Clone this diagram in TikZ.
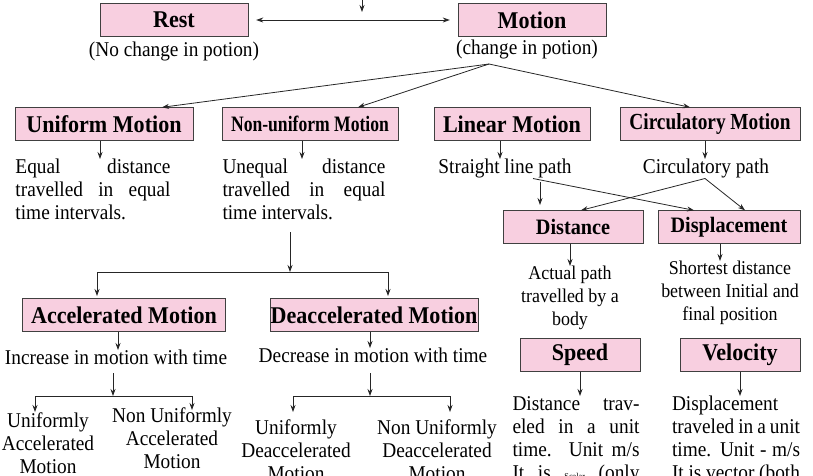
\documentclass[tikz,border=0pt]{standalone}
\usepackage{fontspec}
\setmainfont{Liberation Serif}[FakeStretch=0.92]
\usetikzlibrary{arrows.meta}
\definecolor{boxpink}{HTML}{F8CFE0}
\begin{document}
\begin{tikzpicture}[x=1pt, y=-1pt,
    pinkbox/.style={draw=black!75, fill=boxpink, font=\bfseries\fontsize{24}{25}\selectfont, minimum height=33, inner sep=1},
    txt/.style={font=\fontsize{21}{23}\selectfont, inner sep=0, align=center, anchor=north},
    jtxt/.style={txt, align=justify},
    arr/.style={-{Stealth[length=7, width=5]}, thick, black!85}]
  \useasboundingbox (0,0) rectangle (813,475);
  \clip (0,0) rectangle (813,475);

  % top row
  \node[pinkbox, minimum width=148] (rest) at (174,20) {Rest};
  \node[pinkbox, minimum width=148] (motion) at (532,20) {Motion};
  \node[txt] (restT) at (174,42) {(No change in potion)};
  \node[txt] (motionT) at (527,40) {(change in potion)};
  \coordinate (top) at (362,0);
  \coordinate (mid) at (362,12);
  \draw[arr] (top) -- (mid);
  \path (rest.east) ++(8,0) coordinate (re) (motion.west) ++(-8,0) coordinate (me);
  \draw[arr, {Stealth[length=7, width=5]}-{Stealth[length=7, width=5]}] (re) -- (me);

  % kinds of motion
  \node[pinkbox, minimum width=178] (unif) at (104,124) {Uniform Motion};
  \node[pinkbox, minimum width=176, font=\bfseries\fontsize{22}{24}\selectfont\addfontfeature{FakeStretch=0.8}] (nonunif) at (310,124) {Non-uniform Motion};
  \node[pinkbox, minimum width=156] (linear) at (512,124) {Linear Motion};
  \node[pinkbox, minimum width=180, font=\bfseries\fontsize{23}{25}\selectfont\addfontfeature{FakeStretch=0.84}] (circ) at (710,124) {Circulatory Motion};
  \coordinate (fork) at (489,64);
  \draw[arr] (fork) -- ([xshift=58]unif.north);
  \draw[arr] (fork) -- ([xshift=48]nonunif.north);
  \draw[arr] (fork) -- ([xshift=-20]circ.north);

  \node[jtxt, text width=155] (unifT) at (93,159) {Equal distance\linebreak travelled in equal\linebreak time intervals.};
  \node[jtxt, text width=163] (nonunifT) at (304,159) {Unequal distance\linebreak travelled in equal\linebreak time intervals.};
  \node[txt] (linearT) at (505,159) {Straight line path};
  \node[txt] (circT) at (706,159) {Circulatory path};
  \foreach \b/\t/\s in {unif/unifT/-4, nonunif/nonunifT/-8, linear/linearT/-12, circ/circT/-5}
    \draw[arr] ([xshift=\s]\b.south) -- ([xshift=\s]\b.south |- \t.north);

  % distance and displacement
  \node[pinkbox, minimum width=140, font=\bfseries\fontsize{22}{24}\selectfont] (dist) at (573,227) {Distance};
  \node[pinkbox, minimum width=142, font=\bfseries\fontsize{22}{24}\selectfont] (disp) at (729,227) {Displacement};
  \draw[arr] ([xshift=28]linearT.south) -- ([xshift=-35]disp.north);
  \draw[arr] ([xshift=-1]circT.south) -- ([xshift=8]dist.north);
  \draw[arr] ([xshift=-1]circT.south) -- ([xshift=16]disp.north);
  \draw[arr] (540,182) -- (540,205);
  \node[txt, font=\fontsize{19.5}{23}\selectfont] (distT) at (570,266) {Actual path\\travelled by a\\body};
  \node[txt, font=\fontsize{19.5}{23}\selectfont] (dispT) at (730,261) {Shortest distance\\between Initial and\\final position};
  \draw[arr] ([xshift=-3]dist.south) -- ([xshift=-3]dist.south |- distT.north);
  \draw[arr] ([xshift=-9]disp.south) -- ([xshift=-9]disp.south |- dispT.north);

  % speed and velocity
  \node[pinkbox, minimum width=120] (speed) at (580,355) {Speed};
  \node[pinkbox, minimum width=120] (vel) at (740,355) {Velocity};
  \node[jtxt, text width=127] (speedT) at (576,396) {Distance trav-\linebreak eled in a unit\linebreak time. Unit m/s\linebreak It is {\fontsize{9}{9}\selectfont Scalar} (only\linebreak magnitude)};
  \node[jtxt, text width=128] (velT) at (736,396) {Displacement\linebreak traveled in a unit\linebreak time. Unit - m/s\linebreak It is vector (both\linebreak magnitude and direction)};
  \draw[arr] (speed.south) -- (speed.south |- speedT.north);
  \draw[arr] (vel.south) -- (vel.south |- velT.north);

  % accelerated / deaccelerated
  \coordinate (nsplit) at (290,272);
  \draw[arr] (290,232) -- (nsplit);
  \node[pinkbox, minimum width=203] (acc) at (124,315) {Accelerated Motion};
  \node[pinkbox, minimum width=203] (dec) at (374,315) {Deaccelerated Motion};
  \draw[arr] (nsplit) -| (97,296);
  \draw[arr] (nsplit) -| (388,296);
  \node[txt] (accT) at (116,350) {Increase in motion with time};
  \node[txt] (decT) at (373,348) {Decrease in motion with time};
  \draw[arr] ([xshift=-6]acc.south) -- ([xshift=-6]acc.south |- accT.north);
  \draw[arr] ([xshift=-4]dec.south) -- ([xshift=-4]dec.south |- decT.north);

  \node[txt] (uacc) at (48,413) {Uniformly\\Accelerated\\Motion};
  \node[txt] (nuacc) at (172,408) {Non Uniformly\\Accelerated\\Motion};
  \node[txt] (udec) at (296,420) {Uniformly\\Deaccelerated\\Motion};
  \node[txt] (nudec) at (437,420) {Non Uniformly\\Deaccelerated\\Motion};
  \coordinate (asplit) at (113,396);
  \coordinate (dsplit) at (370,396);
  \draw[arr] (113,373) -- (asplit);
  \draw[arr] (370,373) -- (dsplit);
  \draw[arr] (asplit) -| (35,412);
  \draw[arr] (asplit) -| (192,410);
  \draw[arr] (dsplit) -| (293,412);
  \draw[arr] (dsplit) -| (450,412);
\end{tikzpicture}
\end{document}
